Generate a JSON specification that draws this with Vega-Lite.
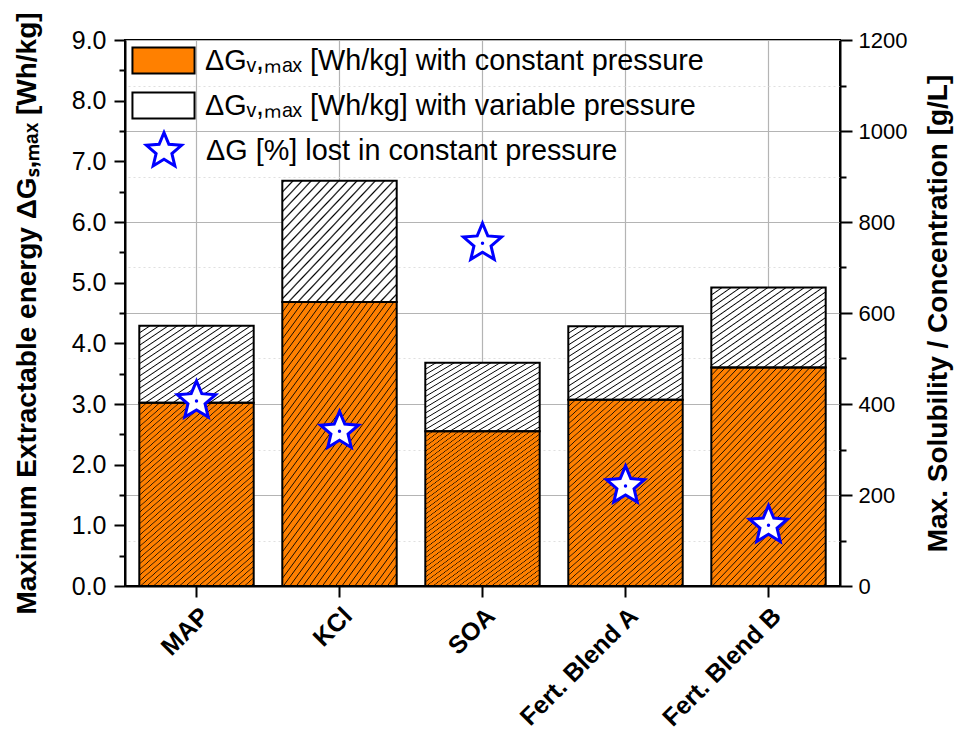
{
  "$schema": "https://vega.github.io/schema/vega-lite/v6.json",
  "width": 715,
  "height": 546,
  "autosize": "none",
  "padding": {"left": 125, "top": 40, "right": 117, "bottom": 154},
  "background": "white",
  "config": {
    "view": {"stroke": "black", "strokeWidth": 2},
    "axis": {
      "labelFont": "Liberation Sans",
      "titleFont": "Liberation Sans",
      "labelColor": "black",
      "titleColor": "black",
      "tickColor": "black",
      "domainColor": "black",
      "domainWidth": 2,
      "tickWidth": 2,
      "labelFontSize": 24,
      "titleFontSize": 28,
      "titleFontWeight": "bold"
    },
    "legend": {"labelFont": "Liberation Sans", "labelColor": "black", "labelFontSize": 28.8, "labelLimit": 800}
  },
  "data": {
    "values": [
      {"material": "MAP", "constant": 3.02, "total": 4.29, "lost": 3.05},
      {"material": "KCl", "constant": 4.68, "total": 6.68, "lost": 2.55},
      {"material": "SOA", "constant": 2.55, "total": 3.68, "lost": 5.65},
      {"material": "Fert. Blend A", "constant": 3.07, "total": 4.28, "lost": 1.65},
      {"material": "Fert. Blend B", "constant": 3.6, "total": 4.92, "lost": 1.0}
    ]
  },
  "layer": [
    {
      "mark": {"type": "bar"},
      "encoding": {
        "x": {
          "field": "material", "type": "nominal", "sort": null,
          "scale": {"paddingInner": 0.2, "paddingOuter": 0.1},
          "axis": {"orient": "bottom", "title": null, "labelAngle": -45, "labelFontSize": 25, "labelFontWeight": "bold", "tickSize": 11, "labelPadding": 6, "grid": true, "gridColor": "#b4b4b4", "gridWidth": 1.2}
        },
        "y": {
          "field": "constant", "type": "quantitative",
          "scale": {"domain": [0, 9], "nice": false},
          "axis": {
            "orient": "left",
            "title": "Maximum Extractable energy ΔGₛ,ₘₐₓ [Wh/kg]",
            "values": [0, 0.5, 1, 1.5, 2, 2.5, 3, 3.5, 4, 4.5, 5, 5.5, 6, 6.5, 7, 7.5, 8, 8.5, 9],
            "format": ".1f",
            "labelExpr": "datum.value % 1 === 0 ? datum.label : ''",
            "tickSize": {"condition": {"test": "datum.value % 1 === 0", "value": 11}, "value": 6},
            "labelFontSize": 25,
            "labelPadding": 8,
            "titlePadding": 30,
            "grid": false
          }
        },
        "fill": {
          "datum": "ΔGᵥ,ₘₐₓ [Wh/kg] with constant pressure", "type": "nominal",
          "scale": {"domain": ["ΔGᵥ,ₘₐₓ [Wh/kg] with constant pressure", "ΔGᵥ,ₘₐₓ [Wh/kg] with variable pressure"], "range": ["#ff8000", "#ffffff"]},
          "legend": {
            "title": null, "orient": "none", "legendX": 15, "legendY": -3, "padding": 0,
            "symbolType": "M-1.38,-0.58H1.38V0.58H-1.38Z", "symbolSize": 2025,
            "symbolStrokeColor": "black", "symbolStrokeWidth": 2, "symbolOpacity": 1,
            "labelOffset": 18, "rowPadding": 4
          }
        }
      }
    },
    {
      "mark": {"type": "bar"},
      "encoding": {
        "x": {"field": "material", "type": "nominal", "sort": null},
        "y": {"field": "constant", "type": "quantitative", "scale": {"domain": [0, 9], "nice": false}, "axis": null},
        "y2": {"field": "total"},
        "fill": {"datum": "ΔGᵥ,ₘₐₓ [Wh/kg] with variable pressure", "type": "nominal"}
      }
    },
    {
      "mark": {
        "type": "bar",
        "stroke": "black",
        "strokeWidth": 2,
        "fill": {"gradient": "linear", "x1": 0, "y1": 0, "x2": 0.66, "y2": 1.2, "stops": [
          {"offset": 0, "color": "rgba(26,13,0,0)"}, {"offset": 0.003, "color": "#1a0d00"}, {"offset": 0.006, "color": "rgba(26,13,0,0)"},
          {"offset": 0.02, "color": "rgba(26,13,0,0)"}, {"offset": 0.023, "color": "#1a0d00"}, {"offset": 0.026, "color": "rgba(26,13,0,0)"},
          {"offset": 0.04, "color": "rgba(26,13,0,0)"}, {"offset": 0.043, "color": "#1a0d00"}, {"offset": 0.046, "color": "rgba(26,13,0,0)"},
          {"offset": 0.06, "color": "rgba(26,13,0,0)"}, {"offset": 0.063, "color": "#1a0d00"}, {"offset": 0.066, "color": "rgba(26,13,0,0)"},
          {"offset": 0.08, "color": "rgba(26,13,0,0)"}, {"offset": 0.083, "color": "#1a0d00"}, {"offset": 0.086, "color": "rgba(26,13,0,0)"},
          {"offset": 0.1, "color": "rgba(26,13,0,0)"}, {"offset": 0.103, "color": "#1a0d00"}, {"offset": 0.106, "color": "rgba(26,13,0,0)"},
          {"offset": 0.12, "color": "rgba(26,13,0,0)"}, {"offset": 0.123, "color": "#1a0d00"}, {"offset": 0.126, "color": "rgba(26,13,0,0)"},
          {"offset": 0.14, "color": "rgba(26,13,0,0)"}, {"offset": 0.143, "color": "#1a0d00"}, {"offset": 0.146, "color": "rgba(26,13,0,0)"},
          {"offset": 0.16, "color": "rgba(26,13,0,0)"}, {"offset": 0.163, "color": "#1a0d00"}, {"offset": 0.166, "color": "rgba(26,13,0,0)"},
          {"offset": 0.18, "color": "rgba(26,13,0,0)"}, {"offset": 0.183, "color": "#1a0d00"}, {"offset": 0.186, "color": "rgba(26,13,0,0)"},
          {"offset": 0.2, "color": "rgba(26,13,0,0)"}, {"offset": 0.203, "color": "#1a0d00"}, {"offset": 0.206, "color": "rgba(26,13,0,0)"},
          {"offset": 0.22, "color": "rgba(26,13,0,0)"}, {"offset": 0.223, "color": "#1a0d00"}, {"offset": 0.226, "color": "rgba(26,13,0,0)"},
          {"offset": 0.24, "color": "rgba(26,13,0,0)"}, {"offset": 0.243, "color": "#1a0d00"}, {"offset": 0.246, "color": "rgba(26,13,0,0)"},
          {"offset": 0.26, "color": "rgba(26,13,0,0)"}, {"offset": 0.263, "color": "#1a0d00"}, {"offset": 0.266, "color": "rgba(26,13,0,0)"},
          {"offset": 0.28, "color": "rgba(26,13,0,0)"}, {"offset": 0.283, "color": "#1a0d00"}, {"offset": 0.286, "color": "rgba(26,13,0,0)"},
          {"offset": 0.3, "color": "rgba(26,13,0,0)"}, {"offset": 0.303, "color": "#1a0d00"}, {"offset": 0.306, "color": "rgba(26,13,0,0)"},
          {"offset": 0.32, "color": "rgba(26,13,0,0)"}, {"offset": 0.323, "color": "#1a0d00"}, {"offset": 0.326, "color": "rgba(26,13,0,0)"},
          {"offset": 0.34, "color": "rgba(26,13,0,0)"}, {"offset": 0.343, "color": "#1a0d00"}, {"offset": 0.346, "color": "rgba(26,13,0,0)"},
          {"offset": 0.36, "color": "rgba(26,13,0,0)"}, {"offset": 0.363, "color": "#1a0d00"}, {"offset": 0.366, "color": "rgba(26,13,0,0)"},
          {"offset": 0.38, "color": "rgba(26,13,0,0)"}, {"offset": 0.383, "color": "#1a0d00"}, {"offset": 0.386, "color": "rgba(26,13,0,0)"},
          {"offset": 0.4, "color": "rgba(26,13,0,0)"}, {"offset": 0.403, "color": "#1a0d00"}, {"offset": 0.406, "color": "rgba(26,13,0,0)"},
          {"offset": 0.42, "color": "rgba(26,13,0,0)"}, {"offset": 0.423, "color": "#1a0d00"}, {"offset": 0.426, "color": "rgba(26,13,0,0)"},
          {"offset": 0.44, "color": "rgba(26,13,0,0)"}, {"offset": 0.443, "color": "#1a0d00"}, {"offset": 0.446, "color": "rgba(26,13,0,0)"},
          {"offset": 0.46, "color": "rgba(26,13,0,0)"}, {"offset": 0.463, "color": "#1a0d00"}, {"offset": 0.466, "color": "rgba(26,13,0,0)"},
          {"offset": 0.48, "color": "rgba(26,13,0,0)"}, {"offset": 0.483, "color": "#1a0d00"}, {"offset": 0.486, "color": "rgba(26,13,0,0)"},
          {"offset": 0.5, "color": "rgba(26,13,0,0)"}, {"offset": 0.503, "color": "#1a0d00"}, {"offset": 0.506, "color": "rgba(26,13,0,0)"},
          {"offset": 0.52, "color": "rgba(26,13,0,0)"}, {"offset": 0.523, "color": "#1a0d00"}, {"offset": 0.526, "color": "rgba(26,13,0,0)"},
          {"offset": 0.54, "color": "rgba(26,13,0,0)"}, {"offset": 0.543, "color": "#1a0d00"}, {"offset": 0.546, "color": "rgba(26,13,0,0)"},
          {"offset": 0.56, "color": "rgba(26,13,0,0)"}, {"offset": 0.563, "color": "#1a0d00"}, {"offset": 0.566, "color": "rgba(26,13,0,0)"},
          {"offset": 0.58, "color": "rgba(26,13,0,0)"}, {"offset": 0.583, "color": "#1a0d00"}, {"offset": 0.586, "color": "rgba(26,13,0,0)"},
          {"offset": 0.6, "color": "rgba(26,13,0,0)"}, {"offset": 0.603, "color": "#1a0d00"}, {"offset": 0.606, "color": "rgba(26,13,0,0)"},
          {"offset": 0.62, "color": "rgba(26,13,0,0)"}, {"offset": 0.623, "color": "#1a0d00"}, {"offset": 0.626, "color": "rgba(26,13,0,0)"},
          {"offset": 0.64, "color": "rgba(26,13,0,0)"}, {"offset": 0.643, "color": "#1a0d00"}, {"offset": 0.646, "color": "rgba(26,13,0,0)"},
          {"offset": 0.66, "color": "rgba(26,13,0,0)"}, {"offset": 0.663, "color": "#1a0d00"}, {"offset": 0.666, "color": "rgba(26,13,0,0)"},
          {"offset": 0.68, "color": "rgba(26,13,0,0)"}, {"offset": 0.683, "color": "#1a0d00"}, {"offset": 0.686, "color": "rgba(26,13,0,0)"},
          {"offset": 0.7, "color": "rgba(26,13,0,0)"}, {"offset": 0.703, "color": "#1a0d00"}, {"offset": 0.706, "color": "rgba(26,13,0,0)"},
          {"offset": 0.72, "color": "rgba(26,13,0,0)"}, {"offset": 0.723, "color": "#1a0d00"}, {"offset": 0.726, "color": "rgba(26,13,0,0)"},
          {"offset": 0.74, "color": "rgba(26,13,0,0)"}, {"offset": 0.743, "color": "#1a0d00"}, {"offset": 0.746, "color": "rgba(26,13,0,0)"},
          {"offset": 0.76, "color": "rgba(26,13,0,0)"}, {"offset": 0.763, "color": "#1a0d00"}, {"offset": 0.766, "color": "rgba(26,13,0,0)"},
          {"offset": 0.78, "color": "rgba(26,13,0,0)"}, {"offset": 0.783, "color": "#1a0d00"}, {"offset": 0.786, "color": "rgba(26,13,0,0)"},
          {"offset": 0.8, "color": "rgba(26,13,0,0)"}, {"offset": 0.803, "color": "#1a0d00"}, {"offset": 0.806, "color": "rgba(26,13,0,0)"},
          {"offset": 0.82, "color": "rgba(26,13,0,0)"}, {"offset": 0.823, "color": "#1a0d00"}, {"offset": 0.826, "color": "rgba(26,13,0,0)"},
          {"offset": 0.84, "color": "rgba(26,13,0,0)"}, {"offset": 0.843, "color": "#1a0d00"}, {"offset": 0.846, "color": "rgba(26,13,0,0)"},
          {"offset": 0.86, "color": "rgba(26,13,0,0)"}, {"offset": 0.863, "color": "#1a0d00"}, {"offset": 0.866, "color": "rgba(26,13,0,0)"},
          {"offset": 0.88, "color": "rgba(26,13,0,0)"}, {"offset": 0.883, "color": "#1a0d00"}, {"offset": 0.886, "color": "rgba(26,13,0,0)"},
          {"offset": 0.9, "color": "rgba(26,13,0,0)"}, {"offset": 0.903, "color": "#1a0d00"}, {"offset": 0.906, "color": "rgba(26,13,0,0)"},
          {"offset": 0.92, "color": "rgba(26,13,0,0)"}, {"offset": 0.923, "color": "#1a0d00"}, {"offset": 0.926, "color": "rgba(26,13,0,0)"},
          {"offset": 0.94, "color": "rgba(26,13,0,0)"}, {"offset": 0.943, "color": "#1a0d00"}, {"offset": 0.946, "color": "rgba(26,13,0,0)"},
          {"offset": 0.96, "color": "rgba(26,13,0,0)"}, {"offset": 0.963, "color": "#1a0d00"}, {"offset": 0.966, "color": "rgba(26,13,0,0)"},
          {"offset": 0.98, "color": "rgba(26,13,0,0)"}, {"offset": 0.983, "color": "#1a0d00"}, {"offset": 0.986, "color": "rgba(26,13,0,0)"},
          {"offset": 1, "color": "rgba(26,13,0,0)"}
        ]}
      },
      "encoding": {
        "x": {"field": "material", "type": "nominal", "sort": null},
        "y": {"field": "constant", "type": "quantitative", "scale": {"domain": [0, 9], "nice": false}, "axis": null}
      }
    },
    {
      "mark": {
        "type": "bar",
        "stroke": "black",
        "strokeWidth": 2,
        "fill": {"gradient": "linear", "x1": 0, "y1": 0, "x2": 1, "y2": 1, "stops": [
          {"offset": 0, "color": "rgba(0,0,0,0)"}, {"offset": 0.007, "color": "#000000"}, {"offset": 0.014, "color": "rgba(0,0,0,0)"},
          {"offset": 0.04, "color": "rgba(0,0,0,0)"}, {"offset": 0.047, "color": "#000000"}, {"offset": 0.054, "color": "rgba(0,0,0,0)"},
          {"offset": 0.08, "color": "rgba(0,0,0,0)"}, {"offset": 0.087, "color": "#000000"}, {"offset": 0.094, "color": "rgba(0,0,0,0)"},
          {"offset": 0.12, "color": "rgba(0,0,0,0)"}, {"offset": 0.127, "color": "#000000"}, {"offset": 0.134, "color": "rgba(0,0,0,0)"},
          {"offset": 0.16, "color": "rgba(0,0,0,0)"}, {"offset": 0.167, "color": "#000000"}, {"offset": 0.174, "color": "rgba(0,0,0,0)"},
          {"offset": 0.2, "color": "rgba(0,0,0,0)"}, {"offset": 0.207, "color": "#000000"}, {"offset": 0.214, "color": "rgba(0,0,0,0)"},
          {"offset": 0.24, "color": "rgba(0,0,0,0)"}, {"offset": 0.247, "color": "#000000"}, {"offset": 0.254, "color": "rgba(0,0,0,0)"},
          {"offset": 0.28, "color": "rgba(0,0,0,0)"}, {"offset": 0.287, "color": "#000000"}, {"offset": 0.294, "color": "rgba(0,0,0,0)"},
          {"offset": 0.32, "color": "rgba(0,0,0,0)"}, {"offset": 0.327, "color": "#000000"}, {"offset": 0.334, "color": "rgba(0,0,0,0)"},
          {"offset": 0.36, "color": "rgba(0,0,0,0)"}, {"offset": 0.367, "color": "#000000"}, {"offset": 0.374, "color": "rgba(0,0,0,0)"},
          {"offset": 0.4, "color": "rgba(0,0,0,0)"}, {"offset": 0.407, "color": "#000000"}, {"offset": 0.414, "color": "rgba(0,0,0,0)"},
          {"offset": 0.44, "color": "rgba(0,0,0,0)"}, {"offset": 0.447, "color": "#000000"}, {"offset": 0.454, "color": "rgba(0,0,0,0)"},
          {"offset": 0.48, "color": "rgba(0,0,0,0)"}, {"offset": 0.487, "color": "#000000"}, {"offset": 0.494, "color": "rgba(0,0,0,0)"},
          {"offset": 0.52, "color": "rgba(0,0,0,0)"}, {"offset": 0.527, "color": "#000000"}, {"offset": 0.534, "color": "rgba(0,0,0,0)"},
          {"offset": 0.56, "color": "rgba(0,0,0,0)"}, {"offset": 0.567, "color": "#000000"}, {"offset": 0.574, "color": "rgba(0,0,0,0)"},
          {"offset": 0.6, "color": "rgba(0,0,0,0)"}, {"offset": 0.607, "color": "#000000"}, {"offset": 0.614, "color": "rgba(0,0,0,0)"},
          {"offset": 0.64, "color": "rgba(0,0,0,0)"}, {"offset": 0.647, "color": "#000000"}, {"offset": 0.654, "color": "rgba(0,0,0,0)"},
          {"offset": 0.68, "color": "rgba(0,0,0,0)"}, {"offset": 0.687, "color": "#000000"}, {"offset": 0.694, "color": "rgba(0,0,0,0)"},
          {"offset": 0.72, "color": "rgba(0,0,0,0)"}, {"offset": 0.727, "color": "#000000"}, {"offset": 0.734, "color": "rgba(0,0,0,0)"},
          {"offset": 0.76, "color": "rgba(0,0,0,0)"}, {"offset": 0.767, "color": "#000000"}, {"offset": 0.774, "color": "rgba(0,0,0,0)"},
          {"offset": 0.8, "color": "rgba(0,0,0,0)"}, {"offset": 0.807, "color": "#000000"}, {"offset": 0.814, "color": "rgba(0,0,0,0)"},
          {"offset": 0.84, "color": "rgba(0,0,0,0)"}, {"offset": 0.847, "color": "#000000"}, {"offset": 0.854, "color": "rgba(0,0,0,0)"},
          {"offset": 0.88, "color": "rgba(0,0,0,0)"}, {"offset": 0.887, "color": "#000000"}, {"offset": 0.894, "color": "rgba(0,0,0,0)"},
          {"offset": 0.92, "color": "rgba(0,0,0,0)"}, {"offset": 0.927, "color": "#000000"}, {"offset": 0.934, "color": "rgba(0,0,0,0)"},
          {"offset": 0.96, "color": "rgba(0,0,0,0)"}, {"offset": 0.967, "color": "#000000"}, {"offset": 0.974, "color": "rgba(0,0,0,0)"},
          {"offset": 1, "color": "rgba(0,0,0,0)"}
        ]}
      },
      "encoding": {
        "x": {"field": "material", "type": "nominal", "sort": null},
        "y": {"field": "constant", "type": "quantitative", "scale": {"domain": [0, 9], "nice": false}, "axis": null},
        "y2": {"field": "total"}
      }
    },
    {
      "mark": {"type": "point", "filled": true, "fill": "white", "stroke": "#0000ff", "strokeWidth": 3, "size": 2375, "opacity": 1},
      "encoding": {
        "x": {"field": "material", "type": "nominal", "sort": null},
        "y": {"field": "lost", "type": "quantitative", "scale": {"domain": [0, 9], "nice": false}, "axis": null},
        "shape": {
          "datum": "ΔG [%] lost in constant pressure", "type": "nominal",
          "scale": {"domain": ["ΔG [%] lost in constant pressure"], "range": ["M0,-0.82L0.217,-0.299L0.78,-0.253L0.351,0.114L0.482,0.663L0,0.369L-0.482,0.663L-0.351,0.114L-0.78,-0.253L-0.217,-0.299Z"]},
          "legend": {
            "title": null, "orient": "none", "legendX": 15, "legendY": 87, "padding": 0,
            "symbolSize": 2025, "symbolStrokeWidth": 3, "labelOffset": 18
          }
        }
      }
    },
    {
      "mark": {"type": "point", "filled": true, "color": "#0000ff", "size": 12, "opacity": 1},
      "encoding": {
        "x": {"field": "material", "type": "nominal", "sort": null},
        "y": {"field": "lost", "type": "quantitative", "scale": {"domain": [0, 9], "nice": false}, "axis": null}
      }
    },
    {
      "mark": {"type": "rule", "opacity": 0},
      "encoding": {
        "y": {
          "field": "lost", "type": "quantitative",
          "scale": {"domain": [0, 1200], "nice": false},
          "axis": {
            "orient": "right",
            "title": "Max. Solubility / Concentration [g/L]",
            "titleAngle": 270,
            "titleBaseline": "top",
            "values": [0, 100, 200, 300, 400, 500, 600, 700, 800, 900, 1000, 1100, 1200],
            "format": "d",
            "labelExpr": "datum.value % 200 === 0 ? datum.label : ''",
            "tickSize": {"condition": {"test": "datum.value % 200 === 0", "value": 12}, "value": 6},
            "labelFontSize": 22,
            "labelPadding": 6,
            "titlePadding": 18,
            "grid": true,
            "gridColor": {"condition": {"test": "datum.value % 200 === 0", "value": "#b4b4b4"}, "value": "#e0e0e0"},
            "gridDash": {"condition": {"test": "datum.value % 200 === 0", "value": []}, "value": [2, 3]},
            "gridWidth": 1.2
          }
        }
      }
    }
  ],
  "resolve": {"scale": {"y": "independent"}}
}
